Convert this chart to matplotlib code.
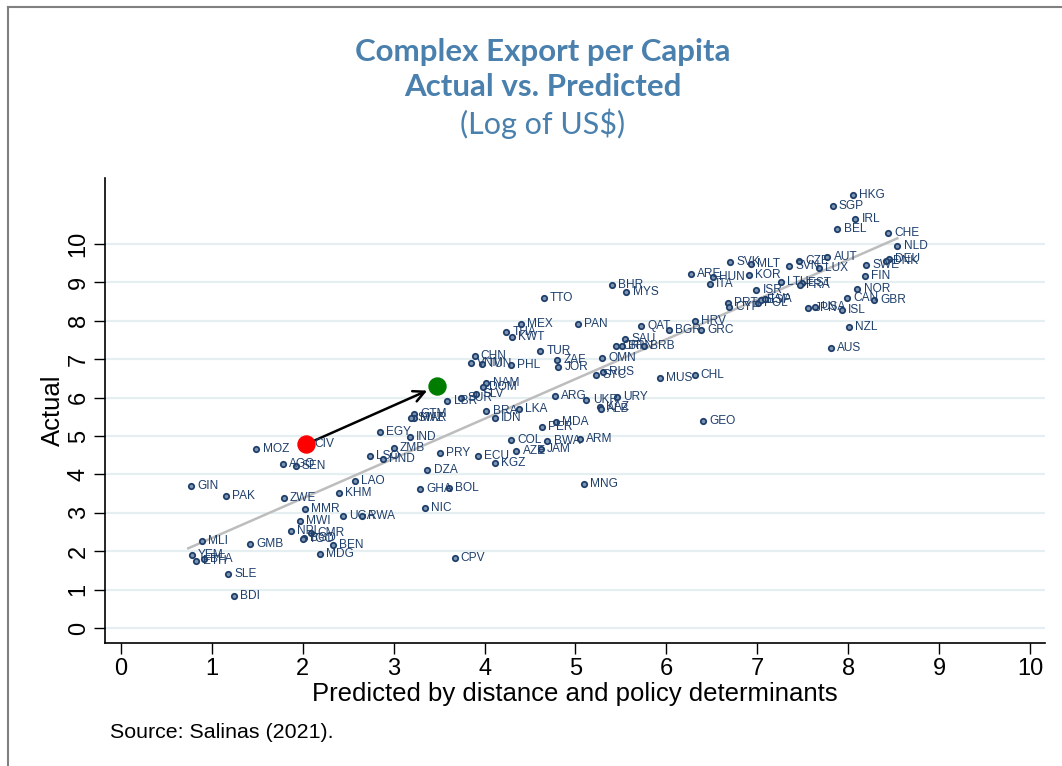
import matplotlib
matplotlib.use("Agg")
import matplotlib.pyplot as plt
from matplotlib.lines import Line2D
import numpy as np

codes = ["HKG","SGP","IRL","BEL","CHE","NLD","DEU","DNK","SWE","FIN","AUT","LUX","CZE","SVN",
         "SVK","MLT","ARE","HUN","KOR","ITA","LTU","EST","FRA","ISR","NOR","CAN","GBR","ISL",
         "USA","JPN","PRT","CYP","POL","ESP","LVA","NZL","AUS","HRV","BGR","GRC","QAT","TTO",
         "BHR","MYS","MEX","PAN","THA","KWT","SAU","CRI","BRN","BRB","TUR","CHN","VNM","TUN",
         "PHL","ZAF","JOR","OMN","RUS","SYC","MUS","CHL","NAM","DOM","SUR","SLV","LBR","ARG",
         "UKR","URY","KAZ","ALB","MDA","PER","BRA","LKA","IDN","GEO","GTM","MAR","SWZ","EGY",
         "IND","ZMB","LSO","HND","PRY","ECU","AZE","JAM","KGZ","COL","BWA","ARM","DZA","GHA",
         "BOL","NIC","MNG","CPV","MOZ","AGO","SEN","GIN","PAK","ZWE","LAO","KHM","MMR","MWI",
         "NPL","CMR","BGD","TGO","UGA","RWA","BEN","MDG","MLI","GMB","YEM","ETH","BFA","SLE","BDI"]
predicted = [8.05,7.83,8.08,7.88,8.44,8.54,8.45,8.42,8.20,8.18,7.77,7.68,7.46,7.35,
             6.70,6.93,6.27,6.51,6.91,6.48,7.26,7.49,7.47,6.99,8.10,7.99,8.28,7.93,
             7.63,7.56,6.68,6.69,7.01,7.04,7.08,8.01,7.81,6.31,6.03,6.38,5.72,4.65,
             5.40,5.56,4.40,5.03,4.24,4.30,5.55,5.45,5.51,5.75,4.61,3.89,3.85,3.97,
             4.29,4.80,4.81,5.29,5.30,5.23,5.93,6.31,4.02,3.98,3.74,3.91,3.59,4.77,
             5.12,5.46,5.27,5.28,4.78,4.63,4.02,4.38,4.11,6.40,3.22,3.22,3.19,2.85,
             3.18,3.00,2.74,2.88,3.51,3.93,4.35,4.62,4.11,4.29,4.69,5.05,3.37,3.29,
             3.61,3.34,5.09,3.67,1.49,1.78,1.92,0.77,1.15,1.79,2.57,2.40,2.02,1.97,
             1.87,2.09,2.01,2.00,2.44,2.65,2.33,2.19,0.89,1.42,0.78,0.83,0.91,1.18,1.24]
actual = [11.29,10.99,10.65,10.38,10.28,9.96,9.60,9.55,9.45,9.17,9.65,9.38,9.56,9.43,
          9.52,9.48,9.21,9.15,9.20,8.97,9.00,8.98,8.93,8.80,8.82,8.59,8.54,8.27,
          8.37,8.33,8.46,8.36,8.46,8.53,8.57,7.83,7.28,8.00,7.76,7.77,7.86,8.59,
          8.93,8.74,7.93,7.91,7.70,7.57,7.53,7.34,7.34,7.35,7.21,7.09,6.89,6.87,
          6.84,6.98,6.79,7.04,6.68,6.58,6.50,6.58,6.37,6.28,5.98,6.09,5.92,6.05,
          5.95,6.01,5.76,5.70,5.37,5.23,5.65,5.70,5.48,5.39,5.58,5.48,5.48,5.11,
          4.98,4.68,4.48,4.39,4.56,4.49,4.60,4.67,4.30,4.90,4.88,4.93,4.11,3.61,
          3.64,3.12,3.75,1.82,4.67,4.26,4.23,3.69,3.44,3.38,3.82,3.52,3.09,2.80,
          2.52,2.47,2.34,2.31,2.92,2.93,2.16,1.93,2.27,2.19,1.91,1.74,1.79,1.41,0.84]

highlight_label = "CIV"
civ_actual_xy = (2.04, 4.79)
civ_target_xy = (3.48, 6.30)
fit_intercept = 1.31
fit_slope = 1.035

x_ticks = list(range(0, 11))
y_ticks = list(range(0, 11))

title_lines = ["Complex Export per Capita", "Actual vs. Predicted", "(Log of US$)"]
x_label = "Predicted by distance and policy determinants"
y_label = "Actual"
source = "Source: Salinas (2021)."

navy = "#1f3f6b"
title_color = "#4a80ad"

plt.rcParams['font.family'] = ['Liberation Sans', 'DejaVu Sans']

fig = plt.figure(figsize=(10.62, 7.66), dpi=100)
ax = fig.add_axes([105/1062, 1-643/766, (1045-105)/1062, (643-178)/766])
ax.set_xlim(-0.176, 10.165)
ax.set_ylim(-0.39, 11.72)

for yt in y_ticks:
    ax.axhline(yt, color="#e5eef1", lw=1.6, zorder=0)

px = np.array(predicted)
xs = np.array([px.min() - 0.03, px.max()])
ax.plot(xs, fit_intercept + fit_slope * xs, color="#bdbdbd", lw=1.8, zorder=1)

ax.scatter(predicted, actual, s=15, facecolor="#7d95b3", edgecolor=navy, linewidths=1.3, zorder=3)
for c, x, y in zip(codes, predicted, actual):
    ax.annotate(c, (x, y), xytext=(4.5, 0), textcoords="offset points", va="center", ha="left",
                fontsize=8.6, color=navy, zorder=4)

ax.scatter([civ_actual_xy[0]], [civ_actual_xy[1]], s=150, color="#ff0000", zorder=5)
ax.scatter([civ_target_xy[0]], [civ_target_xy[1]], s=150, color="#007d00", zorder=5)
ax.annotate(highlight_label, civ_actual_xy, xytext=(5.5, 0), textcoords="offset points",
            va="center", ha="left", fontsize=8.6, color=navy, zorder=6)
ax.annotate("", xy=civ_target_xy, xytext=civ_actual_xy,
            arrowprops=dict(arrowstyle="->", color="black", lw=1.8, shrinkA=5, shrinkB=8,
                            mutation_scale=20), zorder=4)

ax.set_xticks(x_ticks)
ax.set_yticks(y_ticks)
ax.tick_params(axis="both", labelsize=17, length=8, width=1, direction="out", colors="black", pad=3)
for lab in ax.get_yticklabels():
    lab.set_rotation(90)
    lab.set_va("center")
ax.spines["top"].set_visible(False)
ax.spines["right"].set_visible(False)
ax.spines["left"].set_linewidth(1.2)
ax.spines["bottom"].set_linewidth(1.2)

ax.set_xlabel(x_label, fontsize=18.5, labelpad=1)
ax.set_ylabel(y_label, fontsize=18.5, labelpad=2)

fig.text(543/1062, 1-52/766, title_lines[0], ha="center", va="center", fontsize=22.5,
         fontweight="bold", color=title_color, family="Lato")
fig.text(543/1062, 1-87/766, title_lines[1], ha="center", va="center", fontsize=22.5,
         fontweight="bold", color=title_color, family="Lato")
fig.text(543/1062, 1-124/766, title_lines[2], ha="center", va="center", fontsize=22,
         color=title_color, family="Lato")
fig.text(110/1062, 1-733/766, source, ha="left", va="center", fontsize=15.4)

fig.add_artist(Line2D([8/1062, 8/1062], [0, 1-7/766], color="#808080", lw=1.5))
fig.add_artist(Line2D([8/1062, 1], [1-7/766, 1-7/766], color="#808080", lw=1.5))

fig.savefig("out.png", dpi=100)
